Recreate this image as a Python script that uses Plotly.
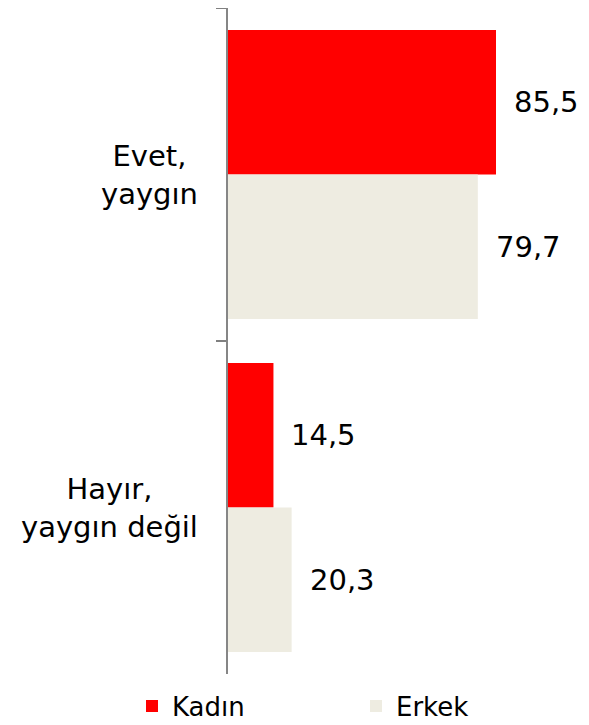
import plotly.graph_objects as go

categories = ["Evet,<br>yaygın", "Hayır,<br>yaygın değil"]
series_names = ["Kadın", "Erkek"]
kadin = [85.5, 14.5]
erkek = [79.7, 20.3]
colors = ["#FF0000", "#EEECE1"]

FONT = "DejaVu Sans"
# page body has an 8px margin, so the figure is drawn 8px in from the window
W, H = 581, 717
ML, MR, MT, MB = 220, 11, 0, 51
plot_w = W - ML - MR
plot_h = H - MT - MB
px_per_unit = 268 / 85.5
xmax = plot_w / px_per_unit

fig = go.Figure()
legend_ids = ["legend", "legend2"]
for name, vals, col, lg in zip(series_names, [kadin, erkek], colors, legend_ids):
    fig.add_trace(go.Bar(
        y=categories, x=vals, name=name, orientation="h",
        marker=dict(color=col, line=dict(width=0)), legend=lg,
    ))

band_px = plot_h / len(categories)
bargap = 0.132
bar_px = band_px * (1 - bargap) / 2

annotations = []
for i, cat in enumerate(categories):
    for j, vals in enumerate([kadin, erkek]):
        shift = bar_px / 2 if j == 0 else -bar_px / 2
        annotations.append(dict(
            x=vals[i], y=cat, xref="x", yref="y",
            text=f"{vals[i]:.1f}".replace(".", ","),
            showarrow=False, xanchor="left", yanchor="middle",
            xshift=16, yshift=shift,
            font=dict(family=FONT, size=29, color="#000000"),
        ))
    annotations.append(dict(
        x=0, y=cat, xref="paper", yref="y",
        text=cat, showarrow=False, xanchor="right", yanchor="middle",
        align="center", xshift=-28,
        font=dict(family=FONT, size=29, color="#000000"),
    ))

legend_common = dict(orientation="h", xanchor="left", y=-0.013, yanchor="top",
                     font=dict(family=FONT, size=26, color="#000000"),
                     bgcolor="rgba(0,0,0,0)", borderwidth=0)

fig.update_layout(
    width=W, height=H,
    margin=dict(l=ML, r=MR, t=MT, b=MB, autoexpand=False),
    paper_bgcolor="white", plot_bgcolor="white",
    barmode="group", bargap=bargap, bargroupgap=0,
    font=dict(family=FONT, size=26, color="#000000"),
    xaxis=dict(range=[0, xmax], showgrid=False, zeroline=False,
               showticklabels=False, showline=False, ticks="",
               automargin=False),
    yaxis=dict(autorange="reversed", showgrid=False, zeroline=False,
               showticklabels=False, showline=True, linecolor="#868686",
               linewidth=2, ticks="outside", tickson="boundaries",
               ticklen=10, tickcolor="#808080", tickwidth=2,
               automargin=False),
    legend=dict(x=(124 - ML) / plot_w, **legend_common),
    legend2=dict(x=(348 - ML) / plot_w, **legend_common),
    annotations=annotations,
    showlegend=True,
)

fig.write_html("out.html")
